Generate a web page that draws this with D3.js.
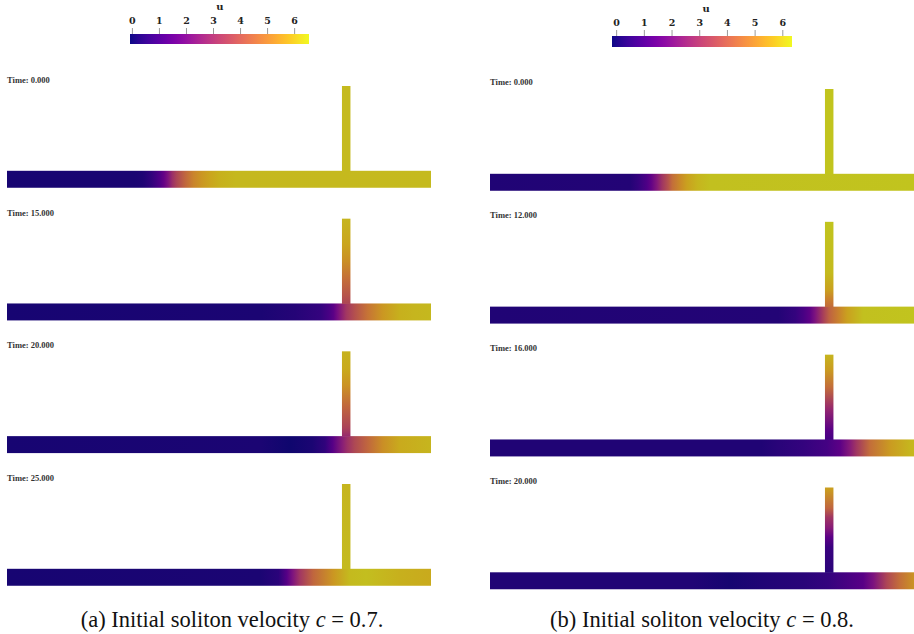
<!DOCTYPE html>
<html>

<head>
    <meta charset="utf-8">
    <style>
        body {
            margin: 0;
            background: #fff;
        }

        svg {
            display: block;
        }

        .time-label {
            font-family: 'Liberation Serif', 'DejaVu Serif', serif;
            font-weight: bold;
            font-size: 8.5px;
            fill: #333;
        }

        .cbar .tick line {
            stroke: #9a9a9a;
        }

        .cbar .domain {
            display: none;
        }

        .cbar .tick text {
            font-family: 'DejaVu Serif', serif;
            font-weight: bold;
            font-size: 9.5px;
            fill: #222;
        }

        .cbar-title {
            font-family: 'DejaVu Serif', serif;
            font-weight: bold;
            font-size: 10px;
            fill: #222;
        }

        .caption {
            font-family: 'Liberation Serif', serif;
            font-size: 22.5px;
            fill: #111;
        }
    </style>
</head>

<body>
    <svg width="914" height="634"></svg>
</body>

<script src="https://d3js.org/d3.v7.min.js"></script>

<script>
    // geometry of the T junction (model units)
    let xDomain = [-40, 10]
    let yDomain = [-1, 11]

    // colour bar ranges of u and their ticks
    let rangeA = [-0.07, 6.55]
    let rangeB = [-0.15, 6.35]
    let cbTicks = [0, 1, 2, 3, 4, 5, 6]

    let timesA = ["0.000", "15.000", "20.000", "25.000"]
    let timesB = ["0.000", "12.000", "16.000", "20.000"]

    // u along the main channel, [x, u]  -- c = 0.7
    let chanA0 = [[-40, 0.1], [-25, 0.12], [-24, 0.2], [-23, 0.5], [-22, 1.1], [-21.5, 1.6], [-21, 2.2], [-20.5, 3.0], [-20, 3.6], [-19, 4.5], [-18, 5.2], [-17, 5.6], [-16, 5.9], [-15, 6.1], [-13, 6.25], [10, 6.28]]
    let chanA1 = [[-40, 0.1], [-10, 0.15], [-6, 0.3], [-3, 0.6], [-2, 1.0], [-1.5, 1.4], [-1, 2.0], [-0.5, 2.6], [0, 3.2], [1, 3.9], [2.5, 4.8], [4.3, 5.6], [6.3, 6.1], [8, 6.2], [10, 6.25]]
    let chanA2 = [[-40, 0.1], [-10, 0.15], [-6.6, 0.0], [-4, 0.15], [-2.5, 0.5], [-1.6, 1.3], [-0.4, 2.5], [0.1, 3.0], [1, 3.7], [2.5, 4.5], [4.3, 5.4], [6.3, 6.0], [10, 6.2]]
    let chanA3 = [[-40, 0.1], [-10.2, 0.15], [-8, 0.4], [-7, 1.3], [-6.3, 2.2], [-5.45, 3.2], [-3.9, 4.5], [-1.5, 5.6], [0.4, 6.3], [2.4, 6.35], [4, 6.25], [6.3, 6.1], [10, 6.0]]

    // u along the side branch, [y, u]  -- c = 0.7
    let stemA0 = [[1, 6.28], [11, 6.28]]
    let stemA1 = [[1, 3.6], [2, 4.0], [4, 4.7], [6, 5.4], [8, 5.9], [11, 6.2]]
    let stemA2 = [[1, 2.8], [2, 3.5], [4.5, 4.5], [7, 5.5], [9, 6.0], [11, 6.15]]
    let stemA3 = [[1, 6.3], [11, 6.2]]

    // c = 0.8
    let chanB0 = [[-40, 0.15], [-23.5, 0.2], [-22.5, 0.5], [-21.5, 1.0], [-21, 1.4], [-20.3, 2.2], [-19.7, 3.0], [-19, 3.8], [-18.5, 4.5], [-17.5, 5.2], [-16.8, 5.6], [-15.5, 6.0], [-14, 6.2], [10, 6.28]]
    let chanB1 = [[-40, 0.15], [-6, 0.2], [-4, 0.5], [-3, 0.9], [-2.3, 1.3], [-1.7, 2.0], [-0.7, 3.3], [0, 4.2], [1, 4.9], [2.1, 5.6], [4, 6.2], [10, 6.28]]
    let chanB2 = [[-40, 0.15], [-8, 0.15], [-6, 0.3], [-3, 0.5], [-0.3, 0.8], [1.3, 1.3], [2.4, 2.2], [3.2, 3.0], [4.8, 4.5], [7.2, 5.5], [9.5, 6.0], [10, 6.05]]
    let chanB3 = [[-40, 0.15], [-16, 0.15], [-11.7, 0.0], [-8, 0.15], [-3, 0.3], [-0.1, 0.5], [4, 1.2], [5.2, 2.0], [6.8, 3.5], [8.3, 4.5], [9.9, 5.3], [10, 5.35]]

    let stemB0 = [[1, 6.28], [11, 6.28]]
    let stemB1 = [[1, 4.4], [2, 5.0], [3, 5.6], [5, 6.1], [11, 6.28]]
    let stemB2 = [[1, 0.8], [2.1, 1.2], [4.4, 2.5], [5.2, 3.0], [7.2, 4.5], [9.2, 5.5], [11, 6.0]]
    let stemB3 = [[1, 0.3], [4, 0.6], [5.2, 1.3], [6.3, 2.3], [7.5, 3.0], [8.6, 4.3], [10.7, 5.5], [11, 5.6]]

    let svg = d3.select("svg")
    let defs = svg.append("defs")

    svg.append("rect")
        .attr("width", 914)
        .attr("height", 634)
        .attr("fill", "#fff")

    // rendered surface is a bit darker than the colour map
    function shade(c) {
        let r = d3.rgb(c)
        return d3.rgb(r.r * 0.8, r.g * 0.8, r.b * 0.8).formatHex()
    }

    function gradient(id, pts, offset, color, vertical) {
        let g = defs.append("linearGradient")
            .attr("id", id)
            .attr("x1", 0)
            .attr("y1", vertical ? 1 : 0)
            .attr("x2", vertical ? 0 : 1)
            .attr("y2", 0)
        g.selectAll("stop")
            .data(pts)
            .join("stop")
            .attr("offset", d => offset(d[0]))
            .attr("stop-color", d => shade(color(d[1])))
    }

    function drawPanel(name, p, chans, stems, times, range) {
        let color = d3.scaleSequential(d3.interpolatePlasma).domain(range)

        let x = d3.scaleLinear().domain(xDomain).range([p.x0, p.x0 + 424])
        let unit = x(1) - x(0)
        let rowTop = d3.scaleLinear().domain([0, 3]).range(p.rows)

        let xOff = d3.scaleLinear().domain(xDomain).range([0, 1])
        let yOff = d3.scaleLinear().domain([1, 11]).range([0, 1])

        // colour bar
        let cb = svg.append("g").attr("class", "cbar")
        let cbx = d3.scaleLinear().domain(range).range([p.cb.x, p.cb.x + p.cb.w])
        let cg = defs.append("linearGradient").attr("id", name + "-cb")
        cg.selectAll("stop")
            .data(d3.range(0, 1.0001, 0.05))
            .join("stop")
            .attr("offset", d => d)
            .attr("stop-color", d => d3.interpolatePlasma(d))
        cb.append("rect")
            .attr("x", cbx(range[0]))
            .attr("y", p.cb.y)
            .attr("width", cbx(range[1]) - cbx(range[0]))
            .attr("height", p.cb.h)
            .attr("fill", `url(#${name}-cb)`)
        cb.append("g")
            .attr("transform", `translate(0,${p.cb.y})`)
            .call(d3.axisTop(cbx).tickValues(cbTicks).tickSize(6).tickPadding(4).tickFormat(d3.format("d")))
        cb.append("text")
            .attr("class", "cbar-title")
            .attr("x", cbx(3.25))
            .attr("y", p.cb.y - 24)
            .attr("text-anchor", "middle")
            .text("u")

        chans.forEach((chan, i) => {
            let top = rowTop(i)
            let y = d3.scaleLinear().domain(yDomain).range([top + 12 * unit, top])

            gradient(`${name}-c${i}`, chan, xOff, color, false)
            gradient(`${name}-s${i}`, stems[i], yOff, color, true)

            svg.append("rect")
                .attr("x", x(xDomain[0]))
                .attr("y", y(1))
                .attr("width", x(xDomain[1]) - x(xDomain[0]))
                .attr("height", y(-1) - y(1))
                .attr("fill", `url(#${name}-c${i})`)

            svg.append("rect")
                .attr("x", x(-0.5))
                .attr("y", y(11))
                .attr("width", x(0.5) - x(-0.5))
                .attr("height", y(1) - y(11) + 0.5)
                .attr("fill", `url(#${name}-s${i})`)

            svg.append("text")
                .attr("class", "time-label")
                .attr("x", p.x0)
                .attr("y", top + p.labelDy)
                .text("Time: " + times[i])
        })
    }

    drawPanel("a", { x0: 7, rows: [86, 484], labelDy: -3, cb: { x: 130, w: 179, y: 34, h: 10 } },
        [chanA0, chanA1, chanA2, chanA3], [stemA0, stemA1, stemA2, stemA3], timesA, rangeA)

    drawPanel("b", { x0: 490, rows: [89, 487.5], labelDy: -4, cb: { x: 612, w: 180, y: 36, h: 11 } },
        [chanB0, chanB1, chanB2, chanB3], [stemB0, stemB1, stemB2, stemB3], timesB, rangeB)

    function caption(cx, tag, c) {
        let t = svg.append("text")
            .attr("class", "caption")
            .attr("x", cx)
            .attr("y", 627)
            .attr("text-anchor", "middle")
        t.append("tspan").text(`(${tag}) Initial soliton velocity `)
        t.append("tspan").style("font-style", "italic").text("c")
        t.append("tspan").text(` = ${c}.`)
    }

    caption(232, "a", "0.7")
    caption(702, "b", "0.8")
</script>

</html>
